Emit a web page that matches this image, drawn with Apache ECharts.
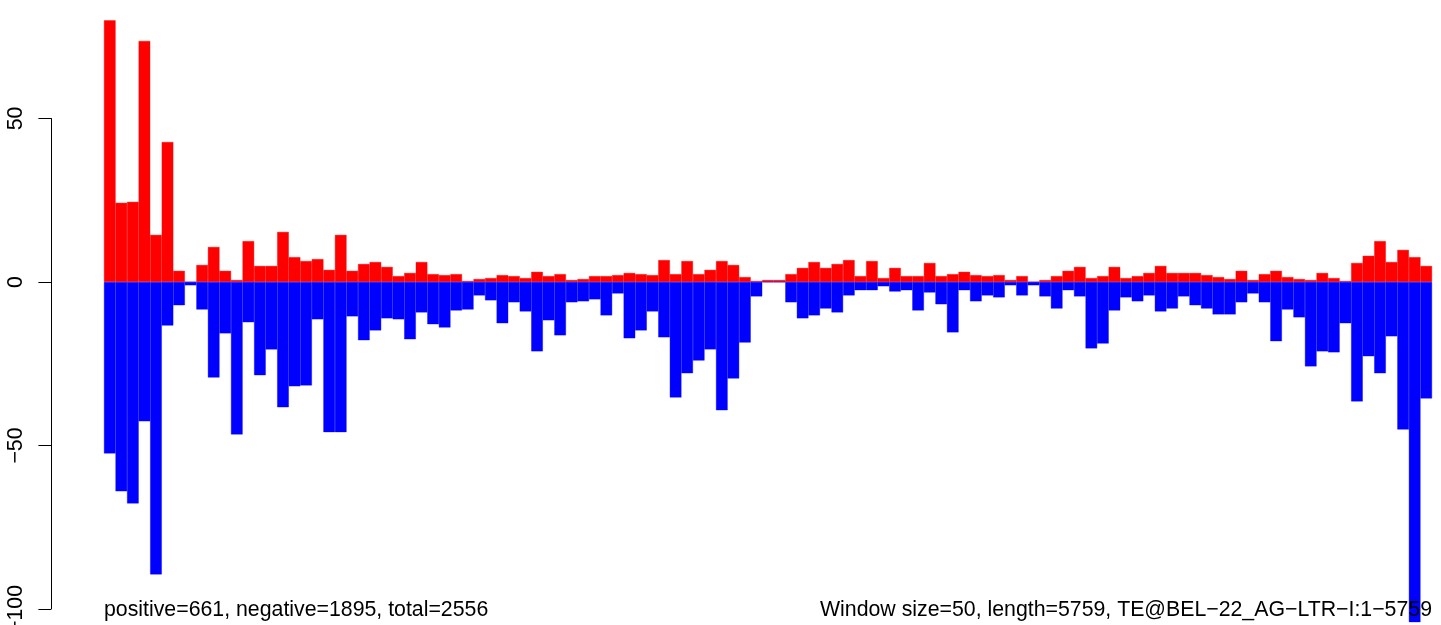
<!DOCTYPE html>
<html>
<head>
<meta charset="utf-8">
<script src="https://cdn.jsdelivr.net/npm/echarts@6/dist/echarts.min.js"></script>
<style>
html,body{margin:0;padding:0;background:#fff;}
#chart{width:1441px;height:625px;}
</style>
</head>
<body>
<div id="chart"></div>
<script>
// Window counts (window size 50)
const positiveCounts = [
  80, 24.2, 24.5, 73.7, 14.4, 42.8, 3.4, 0, 5.2, 10.7,
  3.4, 0.6, 12.5, 4.9, 4.9, 15.3, 7.6, 6.4, 7, 3.7,
  14.4, 3.4, 5.5, 6.1, 4.6, 1.8, 2.75, 6.1, 2.4, 2.1,
  2.4, 0.3, 0.9, 1.2, 2.1, 1.8, 1.2, 3.1, 1.8, 2.4,
  0.6, 0.9, 1.8, 1.8, 2.1, 2.75, 2.4, 2.1, 6.7, 2.4,
  6.4, 2.4, 3.7, 6.4, 5.2, 1.5, 0.3, 0.6, 0.6, 2.4,
  4.3, 6.1, 4.3, 5.5, 6.7, 1.8, 6.4, 1.2, 4.3, 1.8,
  1.8, 5.8, 1.8, 2.4, 3.1, 2.1, 1.8, 2.1, 0.6, 1.8,
  0, 0.6, 1.8, 3.4, 4.6, 1.2, 1.8, 4.6, 1.2, 1.8,
  2.75, 4.9, 2.75, 2.75, 2.75, 2.1, 1.5, 0.9, 3.4, 0.6,
  2.4, 3.4, 1.5, 0.9, 0.6, 2.75, 1.2, 0.3, 5.8, 8,
  12.5, 6.1, 9.8, 7.6, 4.9
];
const negativeCounts = [
  -52.4, -64, -67.7, -42.6, -89.4, -13.3, -7.1, -1, -8.4, -29.2,
  -15.7, -46.6, -12.3, -28.5, -20.6, -38.3, -31.9, -31.6, -11.4, -45.9,
  -45.9, -10.5, -17.8, -14.8, -11.1, -11.4, -17.5, -9.3, -12.9, -13.9,
  -8.7, -8.4, -4.1, -5.6, -12.6, -6.2, -9, -21.2, -11.7, -16.3,
  -6.2, -5.9, -5.3, -10.2, -3.5, -17.2, -14.8, -9, -16.9, -35.3,
  -27.9, -24, -20.6, -39.2, -29.5, -18.5, -4.4, 0, 0, -6.2,
  -11.1, -10.2, -8.1, -9.3, -4.1, -2.5, -2.5, -1.3, -2.9, -2.5,
  -8.7, -3.2, -6.8, -15.4, -2.5, -5.9, -4.1, -4.7, -1, -4.1,
  -1, -4.4, -8.1, -2.5, -4.4, -20.3, -18.8, -8.7, -4.7, -5.9,
  -4.1, -9, -8.1, -4.4, -7.1, -8.1, -9.9, -9.9, -6.2, -3.5,
  -6.2, -18.1, -8.4, -10.8, -25.8, -21.2, -21.5, -12.6, -36.5, -22.7,
  -27.9, -16.6, -45.1, -104, -35.6
];
const windowIndex = positiveCounts.map((_, i) => i + 1);
const yTicks = [-100, -50, 0, 50];
const leftNote = 'positive=661, negative=1895, total=2556';
const rightNote = 'Window size=50, length=5759, TE@BEL\u221222_AG\u2212LTR\u2212I:1\u22125759';

const FONT = '"Liberation Sans", Arial, sans-serif';
const chart = echarts.init(document.getElementById('chart'), null, {renderer: 'canvas'});
chart.setOption({
  animation: false,
  backgroundColor: '#ffffff',
  title: [
    {text: leftNote, left: 104, top: 600, padding: 0,
     textStyle: {fontFamily: FONT, fontSize: 21.3, fontWeight: 'normal', color: '#000'}},
    {text: rightNote, right: 9, top: 600, padding: 0,
     textStyle: {fontFamily: FONT, fontSize: 21.3, fontWeight: 'normal', color: '#000'}}
  ],
  grid: [
    {left: 104, width: 1328, top: 20.4, height: 588.6, outerBoundsMode: 'none', containLabel: false},
    {left: 51, width: 1, top: 118.5, height: 490.5, outerBoundsMode: 'none', containLabel: false}
  ],
  xAxis: [
    {type: 'category', gridIndex: 0, data: windowIndex, show: false},
    {type: 'value', gridIndex: 1, show: false, min: 0, max: 1}
  ],
  yAxis: [
    {type: 'value', gridIndex: 0, min: -100, max: 80, show: false},
    {type: 'value', gridIndex: 1, min: yTicks[0], max: yTicks[yTicks.length - 1], interval: 50,
     splitLine: {show: false},
     axisLine: {show: true, lineStyle: {color: '#000', width: 1}},
     axisTick: {show: true, length: 12.6, lineStyle: {color: '#000', width: 1}},
     axisLabel: {show: true, rotate: 90, margin: 24, color: '#000', fontFamily: FONT, fontSize: 21.3,
       formatter: v => String(v).replace('-', '\u2212')}}
  ],
  series: [
    {type: 'bar', xAxisIndex: 0, yAxisIndex: 0, data: positiveCounts, barGap: '-100%', barCategoryGap: '0%',
     clip: false, itemStyle: {color: '#ff0000', borderColor: '#ff0000', borderWidth: 0.4}},
    {type: 'bar', xAxisIndex: 0, yAxisIndex: 0, data: negativeCounts, barGap: '-100%', barCategoryGap: '0%',
     clip: false, itemStyle: {color: '#0000ff', borderColor: '#0000ff', borderWidth: 0.4}}
  ]
});
</script>
</body>
</html>
